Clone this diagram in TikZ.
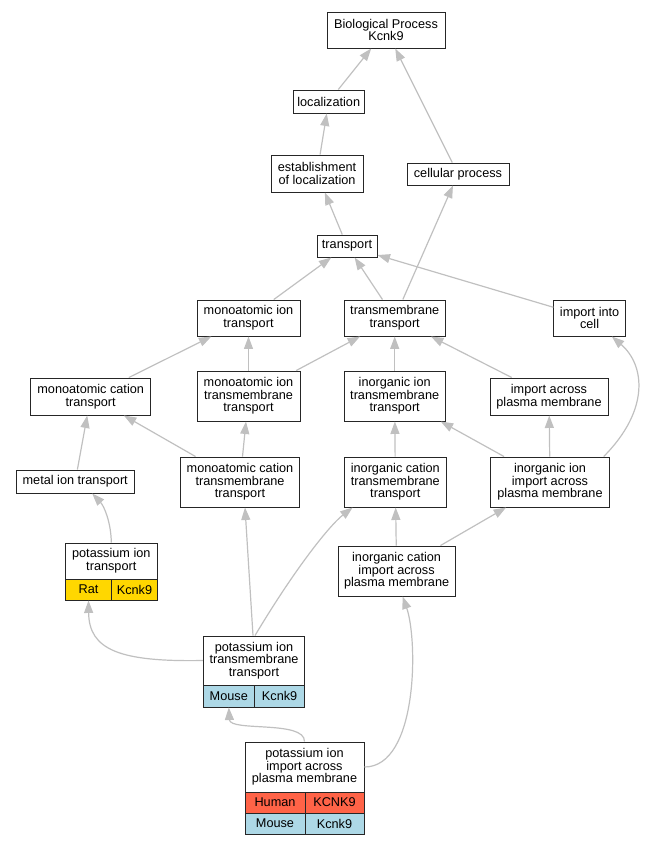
\documentclass[tikz,border=0pt]{standalone}
\usepackage{fontspec}
\setmainfont{Liberation Sans}
\usetikzlibrary{arrows.meta}
\definecolor{edgegray}{HTML}{C0C0C0}
\definecolor{ratgold}{HTML}{FFD700}
\definecolor{humantomato}{HTML}{FF6347}
\definecolor{mouseblue}{HTML}{ADD8E6}

\begin{document}
\begin{tikzpicture}[x=1pt,y=-1pt]
\tikzstyle{every node}+=[inner sep=0pt]
\tikzstyle{term}=[draw=black!85, line width=0.95pt, fill=white, align=center, font=\fontsize{12.7}{12.7}\selectfont]
\tikzstyle{rat}=[term, fill=ratgold]
\tikzstyle{human}=[term, fill=humantomato]
\tikzstyle{mouse}=[term, fill=mouseblue]
\tikzstyle{isa}=[draw=edgegray, line width=1.2pt, -{Triangle[length=12.5pt,width=9pt]}]
\useasboundingbox (0,0) rectangle (645,845);
\node [term, minimum width=118pt, minimum height=36pt] (bp) at (386,30) {Biological Process\\Kcnk9};
\node [term, minimum width=71pt, minimum height=23pt] (loc) at (328.7,101.5) {localization};
\node [term, minimum width=92pt, minimum height=37pt] (estab) at (317,173.5) {establishment\\of localization};
\node [term, minimum width=102pt, minimum height=22pt] (cell) at (458,174) {cellular process};
\node [term, minimum width=60pt, minimum height=22pt] (trans) at (347,246) {transport};
\node [term, minimum width=103pt, minimum height=36pt] (mit) at (248.5,318) {monoatomic ion\\transport};
\node [term, minimum width=101pt, minimum height=36pt] (tmt) at (394.7,318) {transmembrane\\transport};
\node [term, minimum width=71.5pt, minimum height=36pt] (iic) at (589.6,318) {import into\\cell};
\node [term, minimum width=119.6pt, minimum height=37pt] (mct) at (90.7,396.5) {monoatomic cation\\transport};
\node [term, minimum width=103pt, minimum height=50pt] (mitt) at (248.5,396) {monoatomic ion\\transmembrane\\transport};
\node [term, minimum width=101pt, minimum height=50pt] (iitt) at (394.7,396) {inorganic ion\\transmembrane\\transport};
\node [term, minimum width=118pt, minimum height=37pt] (iapm) at (549,396.5) {import across\\plasma membrane};
\node [term, minimum width=118.4pt, minimum height=23pt] (metal) at (75.2,481.5) {metal ion transport};
\node [term, minimum width=119.6pt, minimum height=50pt] (mctt) at (240,482) {monoatomic cation\\transmembrane\\transport};
\node [term, minimum width=102.4pt, minimum height=50pt] (ictt) at (395.3,482) {inorganic cation\\transmembrane\\transport};
\node [term, minimum width=118.4pt, minimum height=50pt] (iiipm) at (550,482) {inorganic ion\\import across\\plasma membrane};
\node [term, minimum width=92pt, minimum height=36pt] (pit) at (111.3,561) {potassium ion\\transport};
\node [rat, minimum width=46.5pt, minimum height=21pt] (pitrat) at (88.5,589.5) {Rat};
\node [rat, minimum width=45.5pt, minimum height=21pt] (pitgene) at (134.5,589.5) {Kcnk9};
\node [term, minimum width=117pt, minimum height=50pt] (icipm) at (396.6,571) {inorganic cation\\import across\\plasma membrane};
\node [term, minimum width=101.5pt, minimum height=49pt] (pitt) at (254,660.5) {potassium ion\\transmembrane\\transport};
\node [mouse, minimum width=51pt, minimum height=22pt] (pittmouse) at (228.8,696) {Mouse};
\node [mouse, minimum width=50.7pt, minimum height=22pt] (pittgene) at (279.6,696) {Kcnk9};
\node [term, minimum width=119pt, minimum height=50pt] (piipm) at (304.5,767) {potassium ion\\import across\\plasma membrane};
\node [human, minimum width=60pt, minimum height=21pt] (piipmhuman) at (275,802.5) {Human};
\node [human, minimum width=59pt, minimum height=21pt] (piipmhgene) at (334.5,802.5) {KCNK9};
\node [mouse, minimum width=60pt, minimum height=21pt] (piipmmouse) at (275,823.5) {Mouse};
\node [mouse, minimum width=59pt, minimum height=21pt] (piipmmgene) at (334.5,823.5) {Kcnk9};
\draw [isa] (loc) -- (bp);
\draw [isa] (cell) -- (bp);
\draw [isa] (estab) -- (loc);
\draw [isa] (trans) -- (estab);
\draw [isa] (tmt) -- (cell);
\draw [isa] (mit) -- (trans);
\draw [isa] (tmt) -- (trans);
\draw [isa] (iic) -- (trans);
\draw [isa] (mct) -- (mit);
\draw [isa] (mitt) -- (mit);
\draw [isa] (mitt) -- (tmt);
\draw [isa] (iitt) -- (tmt);
\draw [isa] (iapm) -- (tmt);
\draw [isa] (metal) -- (mct);
\draw [isa] (mctt) -- (mct);
\draw [isa] (mctt) -- (mitt);
\draw [isa] (ictt) -- (iitt);
\draw [isa] (iiipm) -- (iitt);
\draw [isa] (iiipm) -- (iapm);
\draw [isa] ([xshift=-6pt]iiipm.north east) .. controls (650,410) and (645,365) .. ([xshift=-14pt]iic.south east);
\draw [isa] (icipm) -- (ictt);
\draw [isa] (icipm) -- (iiipm);
\draw [isa] (pit.north) .. controls (111,522) and (104,506) .. ([xshift=17pt]metal.south);
\draw [isa] ([xshift=-1pt]pitt.north) -- ([xshift=5pt]mctt.south);
\draw [isa] ([xshift=1pt]pitt.north) .. controls (296,567) and (330,525) .. ([xshift=9pt]ictt.south west);
\draw [isa] (pitt.west) .. controls (120,662) and (89,650) .. (pitrat.south);
\draw [isa] (piipm.north) .. controls (305,720) and (230,732) .. (pittmouse.south);
\draw [isa] (piipm.east) .. controls (418,767) and (418,640) .. ([xshift=6pt]icipm.south);
\end{tikzpicture}
\end{document}
